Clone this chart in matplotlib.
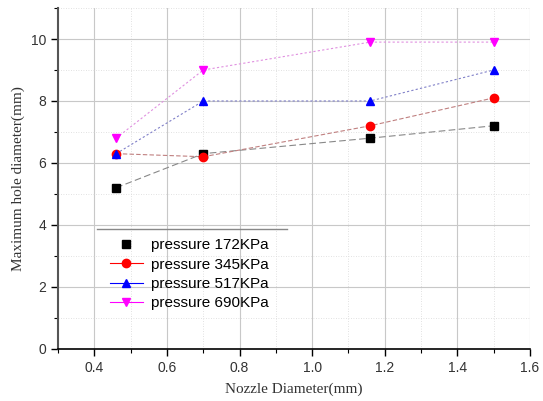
import numpy as np
import matplotlib.pyplot as plt
from matplotlib.lines import Line2D
from matplotlib.ticker import MultipleLocator

# data
nozzle = [0.46, 0.70, 1.16, 1.50]
p172 = [5.2, 6.3, 6.8, 7.2]
p345 = [6.3, 6.2, 7.2, 8.1]
p517 = [6.3, 8.0, 8.0, 9.0]
p690 = [6.8, 9.0, 9.9, 9.9]
labels = ['pressure 172KPa', 'pressure 345KPa', 'pressure 517KPa', 'pressure 690KPa']

series = [p172, p345, p517, p690]
colors = ['black', 'red', 'blue', 'magenta']
markers = ['s', 'o', '^', 'v']
line_cols = ['#888888', '#c08080', '#8080c8', '#e090e0']
line_styles = [(0, (6, 3)), (0, (4, 2)), (0, (2, 2)), (0, (2, 2))]

fig = plt.figure(figsize=(5.43, 4.01), dpi=100)
ax = fig.add_axes([0.107, 0.130, 0.869, 0.850])

for y, c, m, lc, ls in zip(series, colors, markers, line_cols, line_styles):
    ax.plot(nozzle, y, color=lc, linestyle=ls, linewidth=0.8, zorder=2)
    ax.plot(nozzle, y, linestyle='none', marker=m, color=c, markersize=6, zorder=3)

ax.set_xlim(0.3, 1.6)
ax.set_ylim(0, 11)
ax.xaxis.set_minor_locator(MultipleLocator(0.1))
ax.yaxis.set_major_locator(MultipleLocator(2))
ax.yaxis.set_minor_locator(MultipleLocator(1))
xt = np.arange(0.4, 1.61, 0.2)
ax.set_xticks(xt)
ax.set_xticklabels([f'{v:.1f}' for v in xt])

ax.grid(True, which='major', color='#c8c8c8', linewidth=0.8)
ax.grid(True, which='minor', color='#d8d8d8', linewidth=0.6, linestyle=(0, (1, 2)))
ax.set_axisbelow(True)

for s in ['top', 'right']:
    ax.spines[s].set_visible(False)
ax.spines['left'].set_color('#555555')
ax.spines['left'].set_linewidth(1.5)
ax.spines['bottom'].set_color('black')
ax.spines['bottom'].set_linewidth(1.2)

ax.tick_params(which='major', direction='out', length=5, width=1, labelsize=10)
ax.tick_params(which='minor', direction='out', length=3, width=0.8)
for t in ax.get_xticklabels() + ax.get_yticklabels():
    t.set_fontfamily('Liberation Sans')
    t.set_color('#333333')

ax.set_xlabel('Nozzle Diameter(mm)', fontfamily='Liberation Serif', fontsize=11,
              color='#333333', labelpad=6)
ax.set_ylabel('Maximum hole diameter(mm)', fontfamily='Liberation Serif', fontsize=11,
              color='#333333', labelpad=4)

handles = [
    Line2D([], [], linestyle='none', marker='s', color='black', markersize=6),
    Line2D([], [], color='red', marker='o', markersize=6, linewidth=0.8),
    Line2D([], [], color='blue', marker='^', markersize=6, linewidth=0.8),
    Line2D([], [], color='magenta', marker='v', markersize=6, linewidth=0.8),
]
leg = ax.legend(handles, labels, loc='upper left', bbox_to_anchor=(0.08, 0.365),
                frameon=False, prop={'family': 'Liberation Sans', 'size': 11},
                handlelength=2.2, handletextpad=0.5, labelspacing=0.35)
# legend only has a top rule
ax.plot([0.083, 0.485], [0.352, 0.352], transform=ax.transAxes, color='#888888',
        linewidth=1, clip_on=False)

fig.savefig('out.png', dpi=100)
